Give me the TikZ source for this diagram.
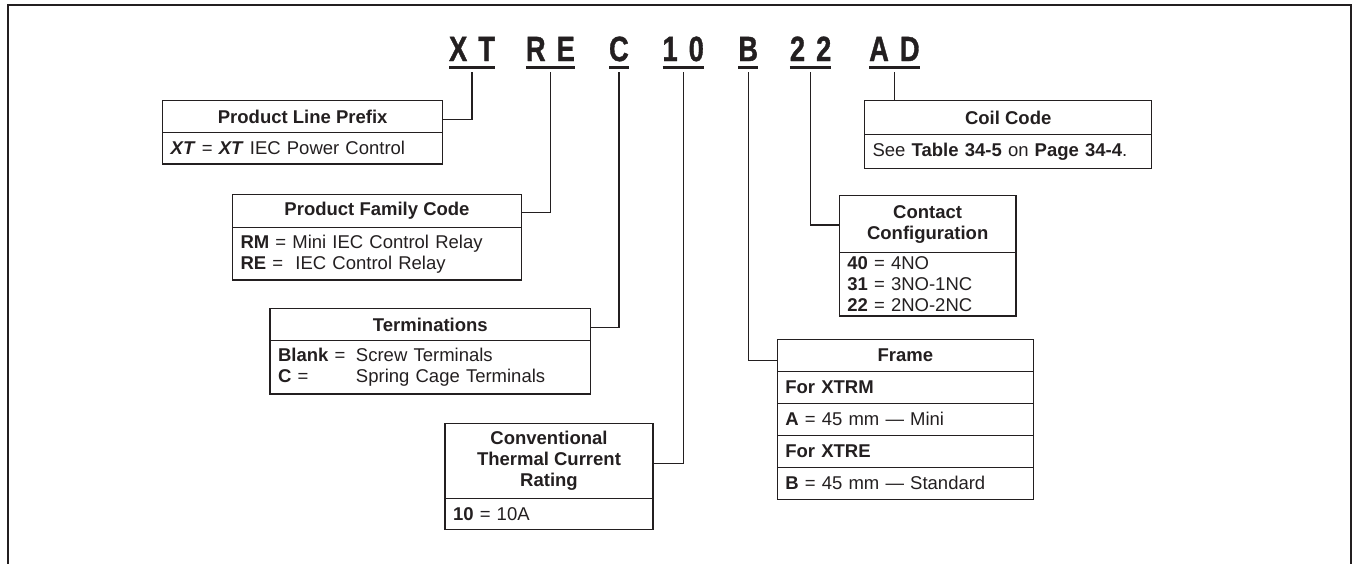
\documentclass[tikz,border=0pt]{standalone}
\usepackage{fontspec}
\setmainfont{Liberation Sans}
\newfontfamily\codefam[FakeBold=1.2]{Liberation Sans}
\usepackage{graphicx}
\usetikzlibrary{calc}
\definecolor{ink}{HTML}{231F20}
\newcommand{\fsz}{\fontsize{18.5}{21}\selectfont}
\newcommand{\codefont}{\codefam\fontsize{35}{35}\selectfont\bfseries}
\newcommand{\cl}[1]{\scalebox{0.78}[1]{#1}}
\newcommand{\gp}{\hspace{11pt}}
\begin{document}
\begin{tikzpicture}[x=1pt,y=-1pt,color=ink,line width=1.3pt,
  cell/.style={draw, inner sep=0pt, outer sep=0pt, anchor=north west},
  hdr/.style={cell, font=\fsz\bfseries, align=center},
  bod/.style={cell, font=\fsz, align=left, inner xsep=8pt},
  code/.style={font=\codefont, inner sep=0pt, outer sep=0pt, anchor=base},
  uline/.style={line width=3pt},
  conn/.style={line width=1.3pt}]
\useasboundingbox (0,0) rectangle (1356,563);
% outer frame
\draw (8,580) -- (8,5) -- (1351,5) -- (1351,580);

% code letters
\node[code] (XT) at (472,61) {\cl{X}\gp\cl{T}};
\node[code] (RE) at (550.4,61) {\cl{R}\gp\cl{E}};
\node[code] (C)  at (618.9,61) {\cl{C}};
\node[code] (N10) at (683.2,61) {\cl{1}\gp\cl{0}};
\node[code] (B)  at (748.2,61) {\cl{B}};
\node[code] (N22) at (810.6,61) {\cl{2}\gp\cl{2}};
\node[code] (AD) at (894.4,61) {\cl{A}\gp\cl{D}};
\foreach \n in {XT,RE,C,N10,B,N22,AD}{
  \draw[uline] ([yshift=-6pt]\n.base west) -- ([yshift=-6pt]\n.base east);
  \coordinate (c\n) at ([yshift=-11pt]\n.base);
}

% Product Line Prefix
\node[hdr, minimum width=280pt, minimum height=32pt] (plph) at (162.7,100.7) {Product Line Prefix};
\node[bod, minimum width=280pt, text width=264pt, minimum height=31.3pt] (plpb) at (plph.south west)
  {\textbf{\textit{XT}} = \textbf{\textit{XT}} IEC Power Control};

% Product Family Code
\node[hdr, minimum width=289pt, minimum height=33.2pt] (pfch) at (232.5,194.3) {Product Family Code};
\node[bod, minimum width=289pt, text width=273pt, minimum height=52.5pt] (pfcb) at (pfch.south west)
  {\textbf{RM} = Mini IEC Control Relay\\\textbf{RE} = \ IEC Control Relay};

% Terminations
\node[hdr, minimum width=320.7pt, minimum height=32.4pt] (termh) at (270,308.3) {Terminations};
\node[bod, minimum width=320.7pt, text width=304.7pt, minimum height=53.3pt] (termb) at (termh.south west)
  {\makebox[78pt][l]{\textbf{Blank} =}Screw Terminals\\\makebox[78pt][l]{\textbf{C} =}Spring Cage Terminals};

% Conventional Thermal Current Rating
\node[hdr, minimum width=208pt, minimum height=75pt] (convh) at (445,423.3) {Conventional\\Thermal Current\\Rating};
\node[bod, minimum width=208pt, text width=192pt, minimum height=31.2pt] (convb) at (convh.south west)
  {\textbf{10} = 10A};

% Coil Code
\node[hdr, minimum width=287.2pt, minimum height=34pt] (coilh) at (864.6,100.7) {Coil Code};
\node[bod, minimum width=287.2pt, text width=271.2pt, minimum height=34pt] (coilb) at (coilh.south west)
  {See \textbf{Table 34-5} on \textbf{Page 34-4}.};

% Contact Configuration
\node[hdr, minimum width=176.7pt, minimum height=56.8pt] (conth) at (839.3,195.7) {Contact\\Configuration};
\node[bod, minimum width=176.7pt, text width=160.7pt, minimum height=63.5pt] (contb) at (conth.south west)
  {\textbf{40} = 4NO\\\textbf{31} = 3NO-1NC\\\textbf{22} = 2NO-2NC};

% Frame
\node[hdr, minimum width=256pt, minimum height=32pt] (frh) at (777.3,339.3) {Frame};
\node[bod, minimum width=256pt, text width=240pt, minimum height=32pt, font=\fsz\bfseries] (fr1) at (frh.south west) {For XTRM};
\node[bod, minimum width=256pt, text width=240pt, minimum height=32pt] (fr2) at (fr1.south west) {\textbf{A} = 45 mm --- Mini};
\node[bod, minimum width=256pt, text width=240pt, minimum height=32pt, font=\fsz\bfseries] (fr3) at (fr2.south west) {For XTRE};
\node[bod, minimum width=256pt, text width=240pt, minimum height=32pt] (fr4) at (fr3.south west) {\textbf{B} = 45 mm --- Standard};

% connectors
\draw[conn] (cXT) |- ([yshift=-2.8pt]plph.east);
\draw[conn] (cRE) |- ([yshift=-1.4pt]pfch.east);
\draw[conn] (cC) |- ([yshift=-3.2pt]termh.east);
\draw[conn] (cN10) |- ([yshift=-2.5pt]convh.east);
\draw[conn] (cB) |- ([yshift=-5.5pt]frh.west);
\draw[conn] (cN22) |- ([yshift=-0.9pt]conth.west);
\draw[conn] (cAD) -- (cAD |- coilh.north);
\end{tikzpicture}
\end{document}
